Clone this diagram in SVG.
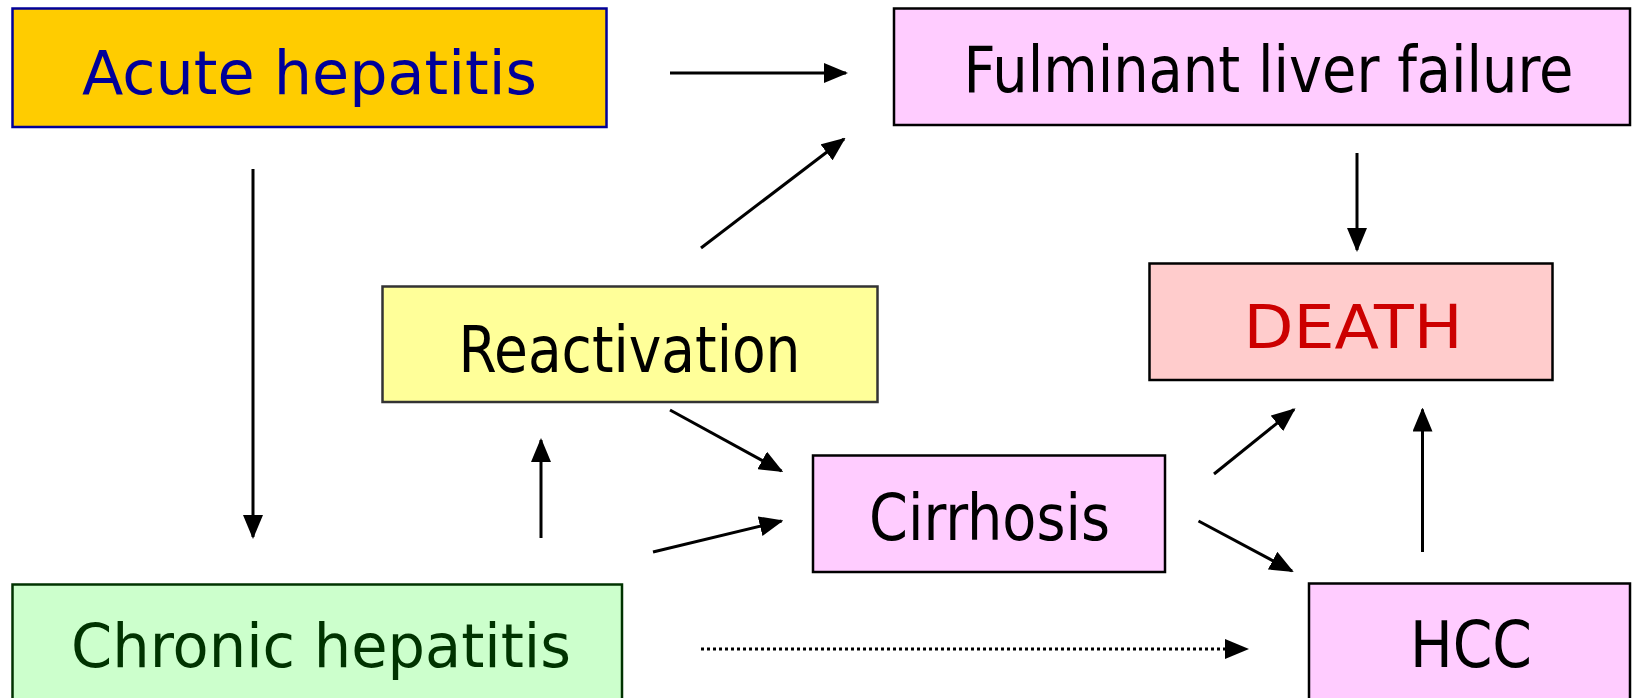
<svg xmlns="http://www.w3.org/2000/svg" width="1634" height="698" viewBox="0 0 1634 698">
  <style>
    .box { stroke-width: 2.5; }
    .comic { font-family: "DejaVu Sans", "Noto Sans", sans-serif; font-size: 61px; text-anchor: middle; }
    .plain { font-family: "DejaVu Sans Condensed", "DejaVu Sans", sans-serif; font-stretch: condensed; font-size: 64px; text-anchor: middle; fill: #000; }
    .conn line { stroke: #000; stroke-width: 3; fill: none; }
    .dotted { stroke-dasharray: 3 3; }
  </style>
  <defs>
    <marker id="ah" markerUnits="userSpaceOnUse" markerWidth="24" markerHeight="20" refX="22" refY="10" orient="auto">
      <path d="M0,0 L24,10 L0,20 Z" fill="#000"/>
    </marker>
  </defs>
  <rect width="1634" height="698" fill="#fff"/>

  <g id="acute">
    <rect class="box" x="12.5" y="8.5" width="594" height="118.5" fill="#FFCC00" stroke="#000099"/>
    <text class="comic" x="309.5" y="93.5" fill="#000099" textLength="455" lengthAdjust="spacingAndGlyphs">Acute hepatitis</text>
  </g>
  <g id="fulminant">
    <rect class="box" x="894" y="8.5" width="736" height="116.5" fill="#FFCCFF" stroke="#000"/>
    <text class="plain" x="1268.5" y="92" textLength="610" lengthAdjust="spacingAndGlyphs">Fulminant liver failure</text>
  </g>
  <g id="reactivation">
    <rect class="box" x="382.5" y="286.5" width="495" height="115.5" fill="#FFFF99" stroke="#333"/>
    <text class="plain" x="629.5" y="372" textLength="342" lengthAdjust="spacingAndGlyphs">Reactivation</text>
  </g>
  <g id="death">
    <rect class="box" x="1149.5" y="263.5" width="403" height="116.5" fill="#FFCCCC" stroke="#000"/>
    <text class="comic" x="1353" y="347.5" fill="#CC0000" textLength="219" lengthAdjust="spacingAndGlyphs">DEATH</text>
  </g>
  <g id="cirrhosis">
    <rect class="box" x="813" y="455.5" width="352" height="116.5" fill="#FFCCFF" stroke="#000"/>
    <text class="plain" x="989.5" y="540" textLength="241" lengthAdjust="spacingAndGlyphs">Cirrhosis</text>
  </g>
  <g id="chronic">
    <rect class="box" x="12.5" y="584.5" width="609.5" height="120" fill="#CCFFCC" stroke="#003300"/>
    <text class="comic" x="321" y="667" fill="#003300" textLength="500" lengthAdjust="spacingAndGlyphs">Chronic hepatitis</text>
  </g>
  <g id="hcc">
    <rect class="box" x="1309" y="583.5" width="321" height="120" fill="#FFCCFF" stroke="#000"/>
    <text class="plain" x="1471" y="667" textLength="122" lengthAdjust="spacingAndGlyphs">HCC</text>
  </g>

  <g id="connectors" class="conn">
    <line x1="670" y1="73" x2="846" y2="73" marker-end="url(#ah)"/>
    <line x1="253" y1="169" x2="253" y2="537" marker-end="url(#ah)"/>
    <line x1="701" y1="248" x2="844" y2="139" marker-end="url(#ah)"/>
    <line x1="1357" y1="153" x2="1357" y2="250" marker-end="url(#ah)"/>
    <line x1="670" y1="410" x2="781.5" y2="471" marker-end="url(#ah)"/>
    <line x1="541" y1="538" x2="541" y2="440" marker-end="url(#ah)"/>
    <line x1="653" y1="552" x2="781.5" y2="521" marker-end="url(#ah)"/>
    <line x1="1214" y1="474" x2="1294" y2="409.5" marker-end="url(#ah)"/>
    <line x1="1198.5" y1="521" x2="1292" y2="571" marker-end="url(#ah)"/>
    <line x1="1422.5" y1="552" x2="1422.5" y2="409.5" marker-end="url(#ah)"/>
    <line class="dotted" x1="701" y1="649" x2="1247" y2="649" marker-end="url(#ah)"/>
  </g>
</svg>
